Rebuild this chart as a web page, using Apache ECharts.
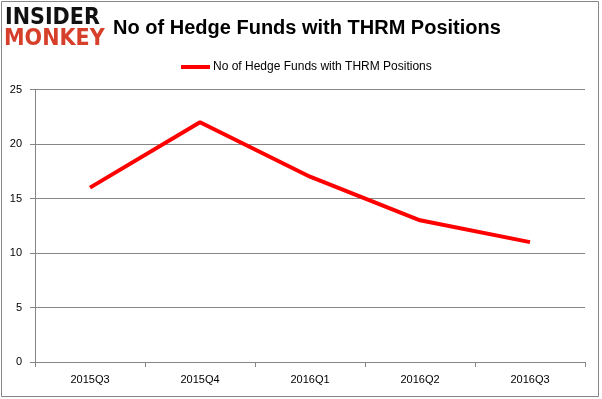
<!DOCTYPE html>
<html>
<head>
<meta charset="utf-8">
<style>
  html, body { margin: 0; padding: 0; background: #fff; }
  #chart { width: 602px; height: 399px; }
</style>
<script src="https://cdn.jsdelivr.net/npm/echarts@6/dist/echarts.min.js"></script>
</head>
<body>
<div id="chart"></div>
<script>
  // data
  var categories = ['2015Q3', '2015Q4', '2016Q1', '2016Q2', '2016Q3'];
  var hedgeFunds = [16, 22, 17, 13, 11];
  var seriesName = 'No of Hedge Funds with THRM Positions';
  var titleText = 'No of Hedge Funds with THRM Positions';

  var myChart = echarts.init(document.getElementById('chart'));
  var font = 'Liberation Sans, Arial, sans-serif';

  var option = {
    animation: false,
    backgroundColor: '#fff',
    title: {
      text: titleText,
      left: 302,
      textAlign: 'center',
      top: 13,
      textStyle: { fontFamily: font, fontSize: 20, fontWeight: 'bold', color: '#000' }
    },
    legend: {
      top: 56,
      left: 176,
      itemWidth: 29,
      itemHeight: 4,
      itemGap: 4,
      icon: 'rect',
      textStyle: { fontFamily: font, fontSize: 12, color: '#000', padding: [0, 0, 0, -2] },
      data: [{ name: seriesName }]
    },
    grid: { left: 35, right: 17, top: 89.5, bottom: 37, containLabel: false },
    xAxis: {
      type: 'category',
      data: categories,
      boundaryGap: true,
      axisLine: { lineStyle: { color: '#868686', width: 1 } },
      axisTick: { show: true, length: 5, lineStyle: { color: '#868686' } },
      axisLabel: { fontFamily: font, fontSize: 11, color: '#000', margin: 12 },
      splitLine: { show: false }
    },
    yAxis: {
      type: 'value',
      min: 0,
      max: 25,
      interval: 5,
      axisLine: { show: true, lineStyle: { color: '#868686', width: 1 } },
      axisTick: { show: true, length: 5, lineStyle: { color: '#868686' } },
      axisLabel: { fontFamily: font, fontSize: 11, color: '#000', margin: 13 },
      splitLine: { show: true, lineStyle: { color: '#868686', width: 1 } }
    },
    series: [{
      name: seriesName,
      type: 'line',
      data: hedgeFunds,
      symbol: 'none',
      lineStyle: { color: '#ff0000', width: 4 },
      itemStyle: { color: '#ff0000' }
    }],
    graphic: [
      {
        type: 'rect',
        shape: { x: 1.5, y: 1.5, width: 597, height: 395 },
        style: { fill: null, stroke: '#868686', lineWidth: 1 },
        z: 1
      },
      {
        type: 'rect',
        shape: { x: 4, y: 8, width: 103, height: 44 },
        style: { fill: '#fff' },
        z: 10
      },
      {
        type: 'text',
        left: 5,
        top: 7,
        style: { text: 'INSIDER', fontFamily: 'DejaVu Sans Condensed, DejaVu Sans', fontSize: 23, fontWeight: 'bold', fill: '#111', letterSpacing: -1 },
        z: 11
      },
      {
        type: 'text',
        left: 4,
        top: 28,
        style: { text: 'MONKEY', fontFamily: 'DejaVu Sans Condensed, DejaVu Sans', fontSize: 23, fontWeight: 'bold', fill: '#d6402b', letterSpacing: -1 },
        z: 11
      }
    ]
  };

  myChart.setOption(option, true);
</script>
</body>
</html>
